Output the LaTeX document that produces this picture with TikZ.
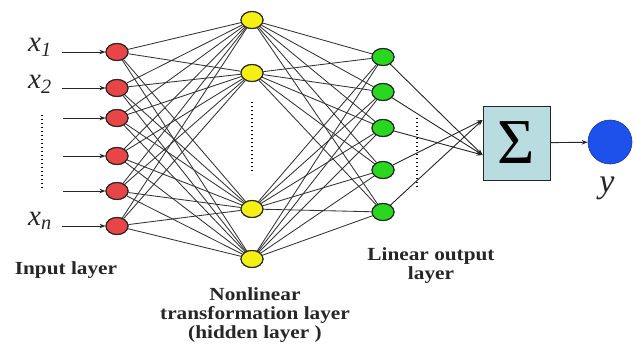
\documentclass[tikz,border=0pt]{standalone}
\usepackage{fontspec}
\setmainfont{Liberation Serif}
\newfontfamily\lblfont[FakeStretch=1.15]{Liberation Serif}
\usetikzlibrary{shapes.geometric,arrows.meta}
\definecolor{inred}{RGB}{232,70,70}
\definecolor{hidyel}{RGB}{245,240,20}
\definecolor{outgreen}{RGB}{40,215,30}
\definecolor{boxblue}{RGB}{185,220,225}
\definecolor{yblue}{RGB}{30,80,235}
\tikzset{
  neuron/.style={ellipse,draw=black!85,line width=1.1pt,minimum width=22pt,minimum height=17pt,inner sep=0pt},
  innode/.style={neuron,fill=inred},
  hidnode/.style={neuron,fill=hidyel},
  outnode/.style={neuron,fill=outgreen},
  link/.style={draw=black!80,line width=0.85pt},
  arr/.style={draw=black!85,line width=0.9pt,-{Stealth[length=6pt,width=4.5pt]}},
  lbl/.style={font=\lblfont\bfseries\fontsize{18.5}{19}\selectfont,align=center,text=black!85},
  xlab/.style={font=\itshape\fontsize{29}{30}\selectfont,text=black!85,inner sep=0pt},
  vdots/.style={draw=black,line width=1.4pt,dash pattern=on 1.4pt off 2.6pt}
}
\begin{document}
\begin{tikzpicture}[x=1pt,y=-1pt]
\useasboundingbox (0,0) rectangle (636,343);
% nodes
\foreach \i/\y in {1/52,2/88,3/118,4/156,5/191,6/226}
  \node[innode] (i\i) at (117,\y) {};
\foreach \j/\y in {1/20,2/73,3/209,4/259}
  \node[hidnode] (h\j) at (252,\y) {};
\foreach \k/\y in {1/57,2/92,3/128,4/170,5/212}
  \node[outnode] (o\k) at (383,\y) {};
% connections
\foreach \i in {1,...,6}
  \foreach \j in {1,...,4}
    \path[link] (i\i) -- (h\j);
\foreach \j in {1,...,4}
  \foreach \k in {1,...,5}
    \path[link] (h\j) -- (o\k);
% redraw nodes on top
\foreach \i/\y in {1/52,2/88,3/118,4/156,5/191,6/226}
  \node[innode] at (117,\y) {};
\foreach \j/\y in {1/20,2/73,3/209,4/259}
  \node[hidnode] at (252,\y) {};
\foreach \k/\y in {1/57,2/92,3/128,4/170,5/212}
  \node[outnode] at (383,\y) {};
% input labels and arrows
\node[xlab] (x1) at (40,47) {x\textsubscript{1}};
\node[xlab] (x2) at (40,84) {x\textsubscript{2}};
\node[xlab] (xn) at (40,221) {x\textsubscript{\textit{n}}};
\coordinate (s1) at (62,52);
\coordinate (s2) at (62,88);
\coordinate (s3) at (63,118);
\coordinate (s4) at (63,156);
\coordinate (s5) at (63,191);
\coordinate (s6) at (62,226);
\foreach \i in {1,...,6}
  \draw[arr] (s\i) -- (i\i);
\coordinate (d1) at (42,115);
\coordinate (d2) at (42,190);
\draw[vdots] (d1) -- (d2);
\coordinate (d3) at (252,102);
\coordinate (d4) at (252,174);
\draw[vdots] (d3) -- (d4);
\coordinate (d5) at (417,118);
\coordinate (d6) at (417,190);
\draw[vdots] (d5) -- (d6);
% sigma box
\node[draw=black!85,line width=0.9pt,fill=boxblue,minimum width=67pt,minimum height=74pt,inner sep=0pt,font=\fontsize{64}{64}\selectfont] (sum) at (516.5,143) {Σ};
\coordinate (t1) at ([yshift=-12pt]sum.west);
\coordinate (t2) at ([yshift=23pt]sum.west);
\foreach \k in {1,2,3}
  \draw[arr] (o\k) -- (t1);
\foreach \k in {4,5}
  \draw[arr] (o\k) -- (t2);
% output
\node[circle,fill=yblue,draw=yblue!70!black,line width=0.6pt,minimum size=44pt,inner sep=0pt] (y) at (610,142) {};
\draw[arr] (sum) -- (y);
\node[xlab,font=\itshape\fontsize{34}{36}\selectfont] (ylab) at (607,188) {y};
% labels
\node[lbl] (L1) at (66,270) {Input layer};
\node[lbl] (L2) at (255,315) {Nonlinear\\transformation layer\\(hidden layer )};
\node[lbl] (L3) at (431,266) {Linear output\\layer};
\end{tikzpicture}
\end{document}
